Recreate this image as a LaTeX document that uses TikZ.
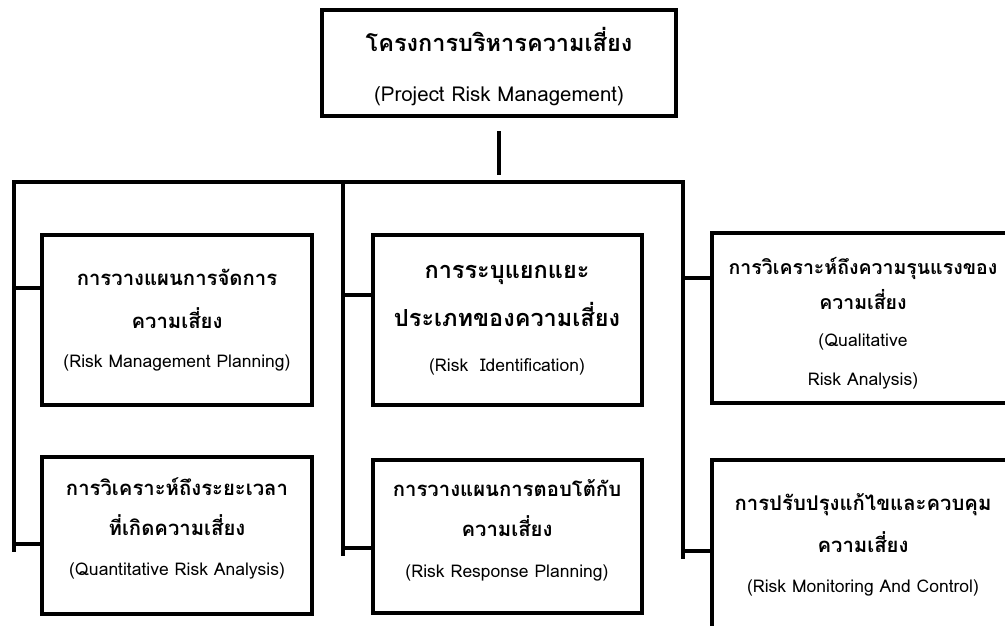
\documentclass[tikz,border=0pt]{standalone}
\usepackage{fontspec}
\newfontfamily\thaifont[Script=Thai]{Loma}
\usetikzlibrary{positioning}
\newcommand\hdtxt[1]{{\bfseries\fontsize{23.5}{40}\selectfont #1}}
\newcommand\sbtxt[1]{{\bfseries\fontsize{20.3}{40}\selectfont #1}}
\newcommand\smtxt[1]{{\bfseries\fontsize{19.5}{40}\selectfont #1}}
\newcommand\entxt[1]{{\fontsize{17.5}{40}\selectfont #1}}
\tikzstyle{box} = [draw, line width=4pt, inner sep=0pt]
\tikzstyle{txt} = [align=center, inner sep=0pt, font=\thaifont\fontsize{17}{40}\selectfont]
\tikzstyle{line} = [draw, line width=4pt, line cap=rect]

\begin{document}
\begin{tikzpicture}[x=1pt,y=-1pt]
    \useasboundingbox (0,0) rectangle (1005,625);
    \clip (0,0) rectangle (1005,625);

    % boxes
    \node[box, minimum width=354, minimum height=106] (prm) at (499,63) {};
    \node[box, minimum width=270, minimum height=170] (rmp) at (177,320) {};
    \node[box, minimum width=270, minimum height=157] (qnra) at (177,535) {};
    \node[box, minimum width=269, minimum height=170] (rid) at (507,320) {};
    \node[box, minimum width=269, minimum height=153] (rrp) at (507,536) {};
    \node[box, minimum width=302, minimum height=170] (qlra) at (863,318) {};
    \node[box, minimum width=302, minimum height=170] (rmc) at (863,545) {};

    % texts
    \node[txt, yshift=-4pt] (prm-t) at (prm)
        {\hdtxt{โครงการบริหารความเสี่ยง}\\[10pt]{\fontsize{20.5}{40}\selectfont (Project Risk Management)}};
    \node[txt] (rmp-t) at (rmp)
        {\sbtxt{การวางแผนการจัดการ}\\[3pt]\sbtxt{ความเสี่ยง}\\[-1pt]\entxt{(Risk Management Planning)}};
    \node[txt, yshift=7pt] (qnra-t) at (qnra)
        {\sbtxt{การวิเคราะห์ถึงระยะเวลา}\\\sbtxt{ที่เกิดความเสี่ยง}\\\entxt{(Quantitative Risk Analysis)}};
    \node[txt] (rid-t) at (rid)
        {\hdtxt{การระบุแยกแยะ}\\[8pt]\hdtxt{ประเภทของความเสี่ยง}\\[5pt]\entxt{(Risk~ Identification)}};
    \node[txt, yshift=6pt] (rrp-t) at (rrp)
        {\sbtxt{การวางแผนการตอบโต้กับ}\\\sbtxt{ความเสี่ยง}\\[1pt]\entxt{(Risk Response Planning)}};
    \node[txt, yshift=-5pt] (qlra-t) at (qlra)
        {\smtxt{การวิเคราะห์ถึงความรุนแรงของ}\\[-5pt]\smtxt{ความเสี่ยง}\\[-3pt]\entxt{(Qualitative}\\[-1pt]\entxt{Risk Analysis)}};
    \node[txt] (rmc-t) at (rmc)
        {\sbtxt{การปรับปรุงแก้ไขและควบคุม}\\[2pt]\sbtxt{ความเสี่ยง}\\\entxt{(Risk Monitoring And Control)}};

    % bus
    \coordinate (bl) at (14,182);
    \coordinate (bm) at (343,182);
    \coordinate (br) at (683,182);
    \draw[line] ([yshift=-15pt]prm.south) -- ++(0,40);
    \draw[line] (bl) -- (br);
    \draw[line] (bl) -- ++(0,368);
    \draw[line] (bm) -- ++(0,372);
    \draw[line] (br) -- ++(0,375);

    \foreach \x/\y/\n in {14/288/rmp, 14/544/qnra, 343/295/rid, 343/548/rrp, 683/278/qlra, 683/551/rmc}
    {
        \coordinate (stub) at (\x,\y);
        \draw[line] (stub) -- (stub -| \n.west);
    };
\end{tikzpicture}
\end{document}
